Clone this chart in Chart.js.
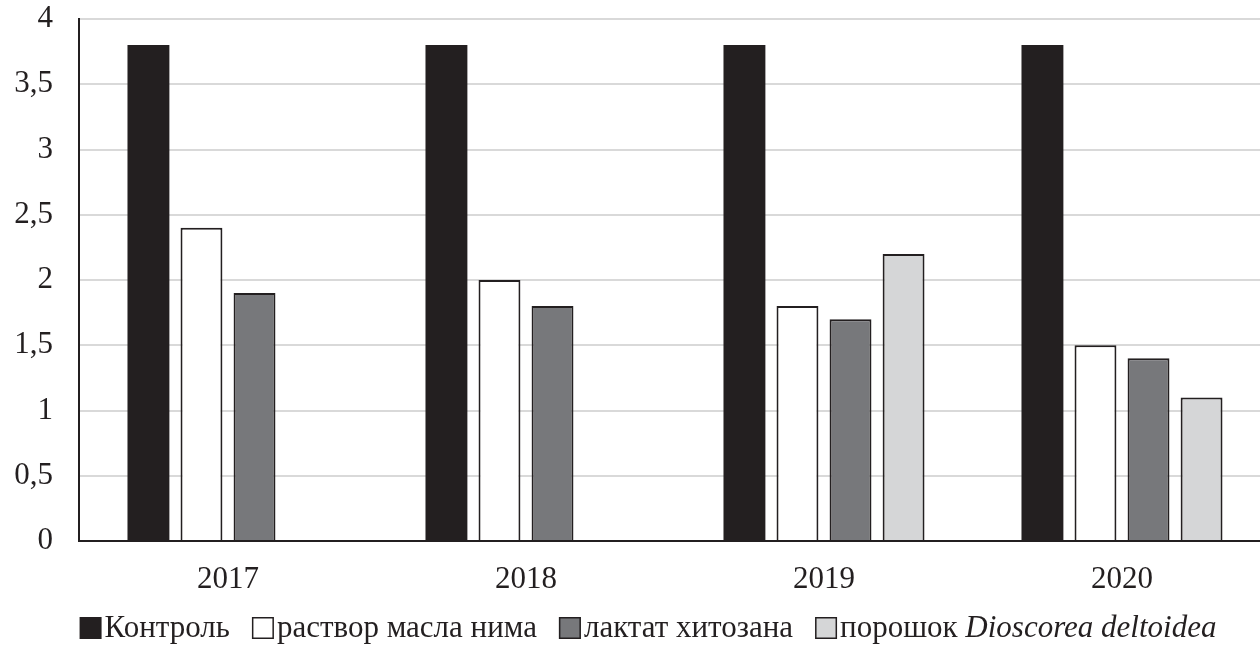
<!DOCTYPE html>
<html><head><meta charset="utf-8">
<script src="https://cdn.jsdelivr.net/npm/chart.js@4.4.1/dist/chart.umd.min.js"></script>
<style>html,body{margin:0;padding:0;overflow:hidden;background:#fff}#wrap{width:1280px;height:658px;position:relative}</style>
</head><body><div id="wrap"><canvas id="c" width="1280" height="658"></canvas></div>
<script>
const categories = ['2017', '2018', '2019', '2020'];
const seriesNames = ['Контроль', 'раствор масла нима', 'лактат хитозана', 'порошок '];
const seriesItalic = ['', '', '', 'Dioscorea deltoidea'];
const control = [3.8, 3.8, 3.8, 3.8];
const neemOil = [2.4, 2.0, 1.8, 1.5];
const chitosan = [1.9, 1.8, 1.7, 1.4];
const dioscorea = [null, null, 2.2, 1.1];
const yTicks = [0, 0.5, 1, 1.5, 2, 2.5, 3, 3.5, 4];

const FONT = '"Liberation Serif", "Times New Roman", serif';
const FS = 31;
const DARK = '#231f20';
const fills = [DARK, '#ffffff', '#77787b', '#d5d6d7'];
const bw = [0, 2, 2, 2];
const values = [control, neemOil, chitosan, dioscorea];

const legendPlugin = {
  id: 'customLegend',
  afterDraw(chart) {
    const ctx = chart.ctx;
    ctx.save();
    const box = 22, gapBox = 3, gapItem = 22;
    const normal = FS + 'px ' + FONT, italic = 'italic ' + FS + 'px ' + FONT;
    const widths = seriesNames.map((n, i) => {
      ctx.font = normal; let w = ctx.measureText(n).width;
      if (seriesItalic[i]) { ctx.font = italic; w += ctx.measureText(seriesItalic[i]).width; }
      return w;
    });
    const total = widths.reduce((a, w) => a + box + gapBox + w, 0) + gapItem * (widths.length - 1);
    let x = 648 - total / 2;
    const cy = 628;
    ctx.textBaseline = 'middle';
    seriesNames.forEach((n, i) => {
      ctx.fillStyle = fills[i];
      ctx.fillRect(x, cy - box / 2, box, box);
      if (bw[i]) { ctx.strokeStyle = DARK; ctx.lineWidth = 1.5; ctx.strokeRect(x + 0.75, cy - box / 2 + 0.75, box - 1.5, box - 1.5); }
      x += box + gapBox;
      ctx.fillStyle = DARK;
      ctx.font = normal; ctx.fillText(n, x, cy + 1);
      let w = ctx.measureText(n).width;
      if (seriesItalic[i]) { ctx.font = italic; ctx.fillText(seriesItalic[i], x + w, cy + 1); w += ctx.measureText(seriesItalic[i]).width; }
      x += w + gapItem;
    });
    ctx.restore();
  }
};

new Chart(document.getElementById('c'), {
  type: 'bar',
  data: {
    labels: categories,
    datasets: values.map((v, i) => ({
      label: seriesNames[i] + seriesItalic[i],
      data: v,
      backgroundColor: fills[i],
      borderColor: DARK,
      borderWidth: bw[i],
      barPercentage: 0.79,
      categoryPercentage: 0.712
    }))
  },
  options: {
    responsive: false,
    animation: false,
    layout: { padding: { top: 19, right: 9, left: 0, bottom: 0 } },
    plugins: { legend: { display: false }, tooltip: { enabled: false }, title: { display: false } },
    scales: {
      x: {
        grid: { display: false, drawTicks: false },
        border: { display: true, color: DARK, width: 2 },
        ticks: { color: DARK, font: { family: FONT, size: FS }, padding: 20 },
        afterFit(s) { s.height = 117; s.paddingLeft = 0; s.paddingRight = 0; }
      },
      y: {
        min: 0, max: 4,
        afterBuildTicks(s) { s.ticks = yTicks.map(v => ({ value: v })); },
        grid: { color: '#d9d9d9', lineWidth: 2, drawTicks: false },
        border: { display: true, color: DARK, width: 2 },
        ticks: {
          color: DARK, font: { family: FONT, size: FS }, padding: 26,
          callback: v => String(v).replace('.', ',')
        },
        afterFit(s) { s.width = 79; s.paddingTop = 0; s.paddingBottom = 0; }
      }
    }
  },
  plugins: [legendPlugin]
});
</script>
</body></html>
